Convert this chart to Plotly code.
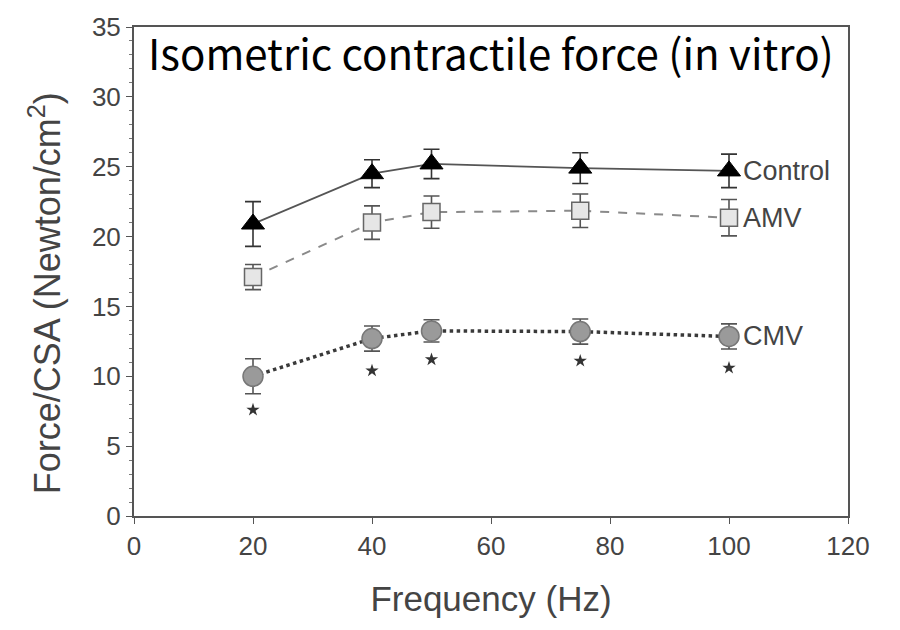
import plotly.graph_objects as go

freq = [20, 40, 50, 75, 100]
control = [20.9, 24.5, 25.2, 24.9, 24.7]
control_err = [1.6, 1.0, 1.05, 1.1, 1.2]
amv = [17.1, 21.0, 21.75, 21.85, 21.35]
amv_err = [0.9, 1.2, 1.15, 1.2, 1.3]
cmv = [10.0, 12.7, 13.25, 13.2, 12.85]
cmv_err = [1.25, 0.9, 0.8, 0.9, 0.9]
star_y = [7.6, 10.4, 11.2, 11.1, 10.6]

x_ticks = [0, 20, 40, 60, 80, 100, 120]
y_ticks = [0, 5, 10, 15, 20, 25, 30, 35]

fig = go.Figure()

fig.add_trace(go.Scatter(
    x=freq, y=cmv, mode="lines+markers",
    line=dict(color="#3a3a3a", width=3.5, dash="dot"),
    marker=dict(symbol="circle", size=20, color="#9a9a9a", line=dict(color="#777", width=1.5)),
    error_y=dict(type="data", array=cmv_err, color="#555", thickness=1.6, width=8),
))
fig.add_trace(go.Scatter(
    x=freq, y=amv, mode="lines+markers",
    line=dict(color="#8a8a8a", width=2, dash="dash"),
    marker=dict(symbol="square", size=17, color="#e6e6e6", line=dict(color="#666", width=1.5)),
    error_y=dict(type="data", array=amv_err, color="#555", thickness=1.6, width=8),
))
fig.add_trace(go.Scatter(
    x=freq, y=control, mode="lines+markers",
    line=dict(color="#555", width=1.8),
    marker=dict(symbol="triangle-up", size=20, color="#000", line=dict(color="#000", width=1)),
    error_y=dict(type="data", array=control_err, color="#333", thickness=1.6, width=8),
))
fig.add_trace(go.Scatter(
    x=freq, y=star_y, mode="markers",
    marker=dict(symbol="star", size=10, color="#333"),
))

labels = [("Control", control[-1]), ("AMV", amv[-1]), ("CMV", cmv[-1])]
for name, yv in labels:
    fig.add_annotation(x=freq[-1], y=yv, text=name, showarrow=False,
                       xanchor="left", xshift=12,
                       font=dict(family="Liberation Sans, Arial", size=27, color="#444"))

fig.add_annotation(xref="paper", yref="paper", x=0.5, y=0.95,
                   text="Isometric contractile force (in vitro)", showarrow=False,
                   xanchor="center", yanchor="middle",
                   font=dict(family="Noto Sans CJK KR", size=42, color="#000"))

fig.add_annotation(xref="paper", yref="paper", x=-0.125, y=0.455,
                   text="Force/CSA (Newton/cm<sup>2</sup>)", showarrow=False, textangle=-90,
                   xanchor="center", yanchor="middle",
                   font=dict(family="Liberation Sans, Arial", size=36, color="#444"))

fig.update_layout(
    width=900, height=630,
    margin=dict(l=134, r=52, t=17, b=114),
    paper_bgcolor="white", plot_bgcolor="white",
    showlegend=False,
    font=dict(family="Liberation Sans, Arial", color="#444"),
)
fig.update_xaxes(
    range=[0, 120], tickvals=x_ticks, ticks="outside", ticklen=6, tickcolor="#555",
    showline=True, linecolor="#555", linewidth=2, mirror=True, showgrid=False, zeroline=False,
    tickfont=dict(size=26, color="#444"),
    title=dict(text="Frequency (Hz)", font=dict(size=35, color="#444"), standoff=26),
)
fig.update_yaxes(
    range=[0, 35], tickvals=y_ticks, ticks="outside", ticklen=6, tickcolor="#555",
    minor=dict(dtick=1, ticks="outside", ticklen=3, tickcolor="#777"),
    showline=True, linecolor="#555", linewidth=2, mirror=True, showgrid=False, zeroline=False,
    tickfont=dict(size=26, color="#444"),
)

fig.write_html("out.html")
